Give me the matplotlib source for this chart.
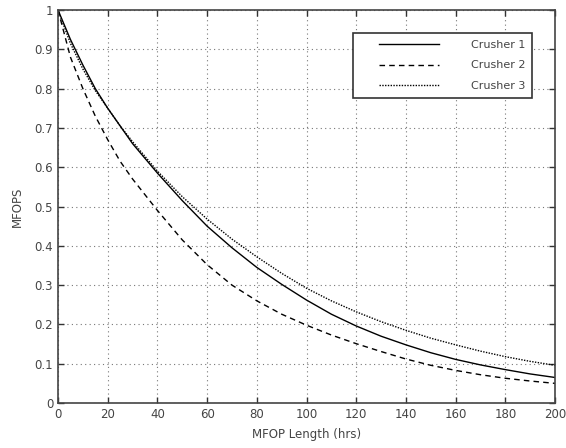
import matplotlib as mpl
mpl.use('Agg')
import matplotlib.pyplot as plt
from matplotlib.ticker import FormatStrFormatter
from matplotlib.legend_handler import HandlerLine2D


# MFOP length (hrs) and survival values
horas = [0, 5, 10, 15, 20, 25, 30, 40, 50, 60, 70, 80, 90, 100,
         110, 120, 130, 140, 150, 160, 170, 180, 190, 200]
crusher1 = [1.0, 0.925, 0.86, 0.80, 0.75, 0.705, 0.66, 0.585, 0.515, 0.45, 0.395, 0.345, 0.302, 0.262,
            0.226, 0.196, 0.17, 0.148, 0.128, 0.111, 0.097, 0.085, 0.074, 0.065]
crusher2 = [1.0, 0.88, 0.80, 0.73, 0.67, 0.615, 0.57, 0.49, 0.415, 0.352, 0.30, 0.26, 0.226, 0.198,
            0.173, 0.151, 0.131, 0.112, 0.096, 0.083, 0.072, 0.063, 0.056, 0.05]
crusher3 = [1.0, 0.915, 0.85, 0.795, 0.75, 0.705, 0.665, 0.59, 0.525, 0.468, 0.417, 0.372, 0.33, 0.292,
            0.26, 0.232, 0.207, 0.185, 0.165, 0.148, 0.132, 0.118, 0.106, 0.096]

xticks = list(range(0, 201, 20))
yticks = [i / 10 for i in range(11)]


def desenhaGrafico(x, y1, y2, y3, xl="MFOP Length (hrs)", yl="MFOPS"):
    fig = plt.figure(figsize=(5.66, 4.48), dpi=100)
    ax = fig.add_axes([0.1025, 0.1004, 0.8781, 0.8773])
    l1, = ax.plot(x, y1, color='black', lw=1.0, ls='-', label="Crusher 1")
    l2, = ax.plot(x, y2, color='black', lw=1.0, ls=(0, (4, 3)), label="Crusher 2")
    l3, = ax.plot(x, y3, color='black', lw=1.0, ls=(0, (1, 1)), label="Crusher 3")

    ax.set_xlim(0, 200)
    ax.set_ylim(0, 1)
    ax.set_xticks(xticks)
    ax.set_yticks(yticks)
    ax.yaxis.set_major_formatter(FormatStrFormatter('%g'))
    ax.tick_params(direction='in', top=True, right=True, length=4, width=1,
                   labelsize=8.5, colors='#333333', labelcolor='#444444')
    for s in ax.spines.values():
        s.set_linewidth(1.2)
        s.set_color('#444444')
    ax.grid(True, color='#777777', ls=(0, (1, 3)), lw=0.8)

    # xpad empurra a linha da legenda para a direita
    hl = HandlerLine2D(xpad=1.7)
    leg = ax.legend(loc='upper right', bbox_to_anchor=(0.954, 0.941), fontsize=8,
                    fancybox=False, framealpha=1, edgecolor='#333333',
                    handlelength=7.1, handletextpad=2.9, labelspacing=0.95,
                    borderpad=0.6, borderaxespad=0,
                    handler_map={l1: hl, l2: hl, l3: hl})
    leg.get_frame().set_linewidth(1.2)
    for t in leg.get_texts():
        t.set_color('#444444')

    ax.set_xlabel(xl, fontsize=8.5, color='#444444', labelpad=5)
    ax.set_ylabel(yl, fontsize=8.5, color='#444444', labelpad=8)
    fig.savefig('out.png', dpi=100)


desenhaGrafico(horas, crusher1, crusher2, crusher3)
